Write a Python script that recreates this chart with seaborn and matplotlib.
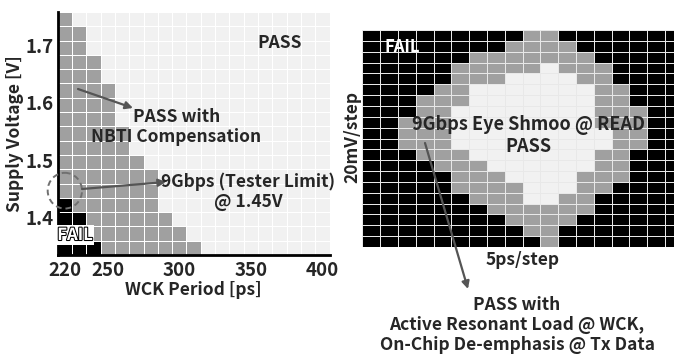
import matplotlib
matplotlib.use("Agg")
import numpy as np
import pandas as pd
import seaborn as sns
import matplotlib.pyplot as plt
from matplotlib.colors import ListedColormap
from matplotlib.patches import Ellipse, FancyArrowPatch
import matplotlib.patheffects as pe

# ---------------- data ----------------
# Left: WCK period vs supply voltage shmoo (X = FAIL, o = PASS with NBTI comp., . = PASS)
periods = [220, 230, 240, 250, 260, 270, 280, 290, 300, 310,
           320, 330, 340, 350, 360, 370, 380, 390, 400]
voltages = [1.75, 1.725, 1.70, 1.675, 1.65, 1.625, 1.60, 1.575, 1.55,
            1.525, 1.50, 1.475, 1.45, 1.425, 1.40, 1.375, 1.35]
wck_shmoo = [
    "o..................",
    "oo.................",
    "oo.................",
    "ooo................",
    "ooo................",
    "oooo...............",
    "oooo...............",
    "oooo...............",
    "ooooo..............",
    "ooooo..............",
    "oooooo.............",
    "ooooooo............",
    "ooooooo............",
    "Xoooooo............",
    "XXoooooo...........",
    "XXooooooo..........",
    "XXXooooooo.........",
]
xtick_vals = [220, 250, 300, 350, 400]
ytick_vals = [1.4, 1.5, 1.6, 1.7]

# Right: 9Gbps eye shmoo @ READ (rows = 20mV/step, cols = 5ps/step)
eye_shmoo = [
    "XXXXXXXXXooXXXXXXX",
    "XXXXXXXXooooXXXXXX",
    "XXXXXXoooooooXXXXX",
    "XXXXXooooo.oooXXXX",
    "XXXXXooo....ooXXXX",
    "XXXXoo.......ooXXX",
    "XXXooo.......ooXXX",
    "XXXoo........oooXX",
    "XXooo........oooXX",
    "XXooo.........ooXX",
    "XXooo.........ooXX",
    "XXXooo.......ooXXX",
    "XXXXooo......ooXXX",
    "XXXXXooo....oooXXX",
    "XXXXXoooo...ooXXXX",
    "XXXXXXooo..ooXXXXX",
    "XXXXXXXooooooXXXXX",
    "XXXXXXXXooooXXXXXX",
    "XXXXXXXXXooXXXXXXX",
    "XXXXXXXXXXoXXXXXXX",
]

code = {"X": 0, "o": 1, ".": 2}
cmap = ListedColormap(["#000000", "#a0a0a0", "#f1f1f1"])

# ---------------- style ----------------
sns.set_style("white")
plt.rcParams["font.family"] = ["Noto Sans CJK KR", "DejaVu Sans"]
plt.rcParams["font.weight"] = "bold"

W, H = 674, 354
fig = plt.figure(figsize=(W / 100, H / 100), dpi=100)


def fp(x, y):
    return (x / W, 1 - y / H)


# ---------------- left panel ----------------
axL = fig.add_axes([57.7 / W, 1 - 255 / H, (329.5 - 57.7) / W, (255 - 12) / H])
dfL = pd.DataFrame([[code[c] for c in row] for row in wck_shmoo],
                   index=voltages, columns=periods)
sns.heatmap(dfL, ax=axL, cmap=cmap, vmin=0, vmax=2, cbar=False,
            linewidths=0.55, linecolor="white", square=False)
axL.set_xticks([periods.index(p) + 0.5 for p in xtick_vals])
axL.set_xticklabels([str(p) for p in xtick_vals], rotation=0)
axL.set_yticks([voltages.index(v) + 0.5 for v in ytick_vals])
axL.set_yticklabels([f"{v:.1f}" for v in ytick_vals], rotation=0)
axL.tick_params(axis="x", length=0, labelsize=13.5, pad=4)
axL.tick_params(axis="y", length=0, labelsize=13.5, pad=3)
for lab in axL.get_xticklabels() + axL.get_yticklabels():
    lab.set_fontweight("bold")
axL.set_xlabel("WCK Period [ps]", fontsize=12.5, fontweight="bold", labelpad=1)
axL.set_ylabel("Supply Voltage [V]", fontsize=12.5, fontweight="bold", labelpad=1)
for s in ["left", "bottom"]:
    axL.spines[s].set_visible(True)
    axL.spines[s].set_color("black")
    axL.spines[s].set_linewidth(2)

# dashed circle around 9Gbps @ 1.45V
axL.add_patch(Ellipse((periods.index(220) + 0.5, voltages.index(1.45) + 0.5),
                      2.4, 2.5, fill=False, ls=(0, (3, 2)), ec="#707070",
                      lw=1.4, clip_on=False, zorder=5))

fig.text(*fp(280, 43), "PASS", ha="center", va="center", fontsize=12.5, fontweight="bold")
fig.text(*fp(177, 117), "PASS with", ha="center", va="center", fontsize=12.5, fontweight="bold")
fig.text(*fp(176, 137), "NBTI Compensation", ha="center", va="center", fontsize=12.5, fontweight="bold")
fig.text(*fp(248, 182), "9Gbps (Tester Limit)", ha="center", va="center", fontsize=12.5, fontweight="bold")
fig.text(*fp(248, 202), "@ 1.45V", ha="center", va="center", fontsize=12.5, fontweight="bold")
fig.text(*fp(75, 235), "FAIL", ha="center", va="center", fontsize=12, fontweight="bold",
         color="white", path_effects=[pe.withStroke(linewidth=1.5, foreground="black")],
         bbox=dict(boxstyle="square,pad=0.05", fc="white", ec="none"))

arrow_kw = dict(arrowstyle="-|>", mutation_scale=11, color="#555555", lw=1.6,
                transform=fig.transFigure, shrinkA=0, shrinkB=0)
fig.add_artist(FancyArrowPatch(fp(78, 89), fp(133, 108), **arrow_kw))
fig.add_artist(FancyArrowPatch(fp(82, 189), fp(166, 182), **arrow_kw))

# ---------------- right panel ----------------
axR = fig.add_axes([362.3 / W, 1 - 247 / H, 320.4 / W, 217 / H])
dfR = pd.DataFrame([[code[c] for c in row] for row in eye_shmoo])
sns.heatmap(dfR, ax=axR, cmap=cmap, vmin=0, vmax=2, cbar=False,
            linewidths=0.55, linecolor="#e8e8e8", square=False,
            xticklabels=False, yticklabels=False)

fig.text(*fp(402, 47), "FAIL", ha="center", va="center", fontsize=12, fontweight="bold",
         color="white", zorder=10)
fig.text(*fp(528, 125), "9Gbps Eye Shmoo @ READ", ha="center", va="center",
         fontsize=13, fontweight="bold")
fig.text(*fp(528, 146), "PASS", ha="center", va="center", fontsize=13, fontweight="bold")
fig.text(*fp(352, 137), "20mV/step", ha="center", va="center", rotation=90,
         fontsize=12.5, fontweight="bold")
fig.text(*fp(523, 260), "5ps/step", ha="center", va="center", fontsize=12.5, fontweight="bold")
fig.text(*fp(517, 325), "PASS with\nActive Resonant Load @ WCK,\nOn-Chip De-emphasis @ Tx Data",
         ha="center", va="center", fontsize=12.5, fontweight="bold", linespacing=1.15)
fig.add_artist(FancyArrowPatch(fp(425, 143), fp(468, 289), **arrow_kw))

fig.savefig("out.png", dpi=100)
